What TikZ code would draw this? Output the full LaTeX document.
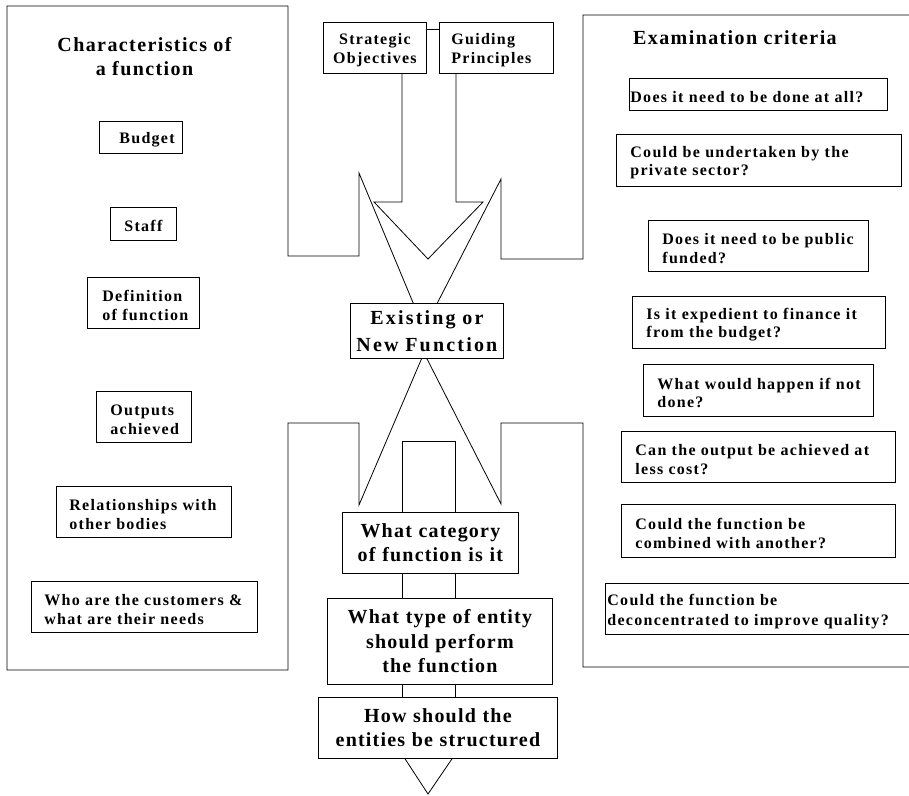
\documentclass[tikz,border=0pt]{standalone}
\usepackage{fontspec}
\usepackage{tikz}
\newfontfamily\itemfont[LetterSpace=8]{Liberation Serif}
\newfontfamily\flowfont[LetterSpace=6]{Liberation Serif}
\newfontfamily\headfont[LetterSpace=7]{Liberation Serif}
\newcommand\lift{\rule{0pt}{16pt}}
\newcommand\indentby[1]{\leftskip=#1pt\relax\lift}

\begin{document}
\begin{tikzpicture}[x=1pt,y=-1pt]
            \tikzstyle{frame line}=[line width=0.8pt,line join=miter]
            \tikzstyle{item box}=[draw,fill=white,line width=0.8pt,anchor=north west,inner sep=0pt,align=left,font=\itemfont\bfseries\fontsize{16}{18.5}\selectfont]
            \tikzstyle{flow box}=[draw,fill=white,line width=0.8pt,anchor=north west,inner sep=0pt,align=center,font=\flowfont\bfseries\fontsize{20}{24.5}\selectfont]
            \tikzstyle{title text}=[inner sep=0pt,font=\headfont\bfseries\fontsize{20}{24}\selectfont]
            \useasboundingbox (0,0) rectangle (909,795);

            % the two panels and the big arrows
            \draw[frame line] (424,329) -- (359,173) -- (359,256) -- (288,256) -- (288,6) -- (7,6) -- (7,670)
                -- (288,670) -- (288,423) -- (359,423) -- (359,505) -- (424,353);
            \draw[frame line] (424,329) -- (501,179) -- (501,259) -- (583,259) -- (583,15) -- (915,15);
            \draw[frame line] (915,667) -- (583,667) -- (583,423) -- (501,423) -- (501,504) -- (424,353);

            % left panel
            \node[title text,align=center] (chartitle) at (144.5,57) {Characteristics of\\a function};
            \node[item box,text width=83pt,minimum height=32pt] (budget) at (99,121) {\indentby{20}Budget\par};
            \node[item box,text width=66pt,minimum height=33pt] (staff) at (110,207) {\indentby{14}Staff\par};
            \node[item box,text width=112pt,minimum height=51pt] (defn) at (87,277) {\indentby{15}Definition\\of function\par};
            \node[item box,text width=95pt,minimum height=51pt] (outputs) at (96,391) {\indentby{14}Outputs\\achieved\par};
            \node[item box,text width=175pt,minimum height=51pt] (bodies) at (56,486) {\indentby{13}Relationships with\\other bodies\par};
            \node[item box,text width=226pt,minimum height=51pt] (customers) at (31,581) {\indentby{13}Who are the customers \&\\what are their needs\par};

            % top boxes
            \node[item box,align=center,text width=103pt,minimum height=51pt] (strat) at (323,22) {\lift Strategic\\Objectives};
            \node[item box,text width=114pt,minimum height=51pt] (guide) at (439,22) {\indentby{12}Guiding\\Principles\par};

            % right panel
            \node[title text,anchor=base west] (crittitle) at (633,44) {Examination criteria};
            \node[item box,text width=258pt,minimum height=32pt] (q1) at (629,78) {\indentby{1}Does it need to be done at all?\par};
            \node[item box,text width=285pt,minimum height=52pt] (q2) at (616,134) {\indentby{14}Could be undertaken by the\\private sector?\par};
            \node[item box,text width=220pt,minimum height=51pt] (q3) at (648,220) {\indentby{14}Does it need to be public\\funded?\par};
            \node[item box,text width=253pt,minimum height=52pt] (q4) at (632,296) {\indentby{14}Is it expedient to finance it\\from the budget?\par};
            \node[item box,text width=230pt,minimum height=52pt] (q5) at (643,364) {\indentby{14}What would happen if not\\done?\par};
            \node[item box,text width=274pt,minimum height=51pt] (q6) at (621,431) {\indentby{14}Can the output be achieved at\\less cost?\par};
            \node[item box,text width=274pt,minimum height=53pt] (q7) at (621,504) {\indentby{14}Could the function be\\combined with another?\par};
            \node[item box,text width=310pt,minimum height=51pt,font=\itemfont\bfseries\fontsize{16}{20}\selectfont] (q8) at (605,583) {\indentby{2}Could the function be\\deconcentrated to improve quality?\par};

            % the flow in the middle
            \node[flow box,text width=153pt,minimum height=55pt,font=\flowfont\addfontfeature{LetterSpace=11}\bfseries\fontsize{20}{27}\selectfont] (exist) at (350,303) {Existing or\\New Function};
            \node[flow box,text width=176pt,minimum height=61pt] (cat) at (342,512) {What category\\of function is it};
            \node[flow box,text width=225pt,minimum height=86pt] (type) at (327,598) {What type of entity\\should perform\\the function};
            \node[flow box,text width=239pt,minimum height=61pt] (how) at (318,697) {How should the\\entities be structured};

            \coordinate (shaftL) at (402,0);
            \coordinate (shaftR) at (456,0);
            \coordinate (lowL) at (402,0);
            \coordinate (lowR) at (455,0);
            \coordinate (link) at (0,29);
            \coordinate (tipA) at (428,259);
            \coordinate (triL) at (405,0);
            \coordinate (triR) at (452,0);
            \coordinate (tipB) at (428,794);

            \draw[frame line] (strat.east |- link) -- (guide.west |- link);
            \draw[frame line] (strat.south -| shaftL) |- (374,202) -- (tipA) -- (483,202) -| (guide.south -| shaftR);
            \draw[frame line] (cat.north -| lowL) -- ++(0,-71) -| (cat.north -| lowR);
            \draw[frame line] (cat.south -| lowL) -- (type.north -| lowL);
            \draw[frame line] (cat.south -| lowR) -- (type.north -| lowR);
            \draw[frame line] (type.south -| lowL) -- (how.north -| lowL);
            \draw[frame line] (type.south -| lowR) -- (how.north -| lowR);
            \draw[frame line] (how.south -| triL) -- (tipB) -- (how.south -| triR);
        \end{tikzpicture}
\end{document}
